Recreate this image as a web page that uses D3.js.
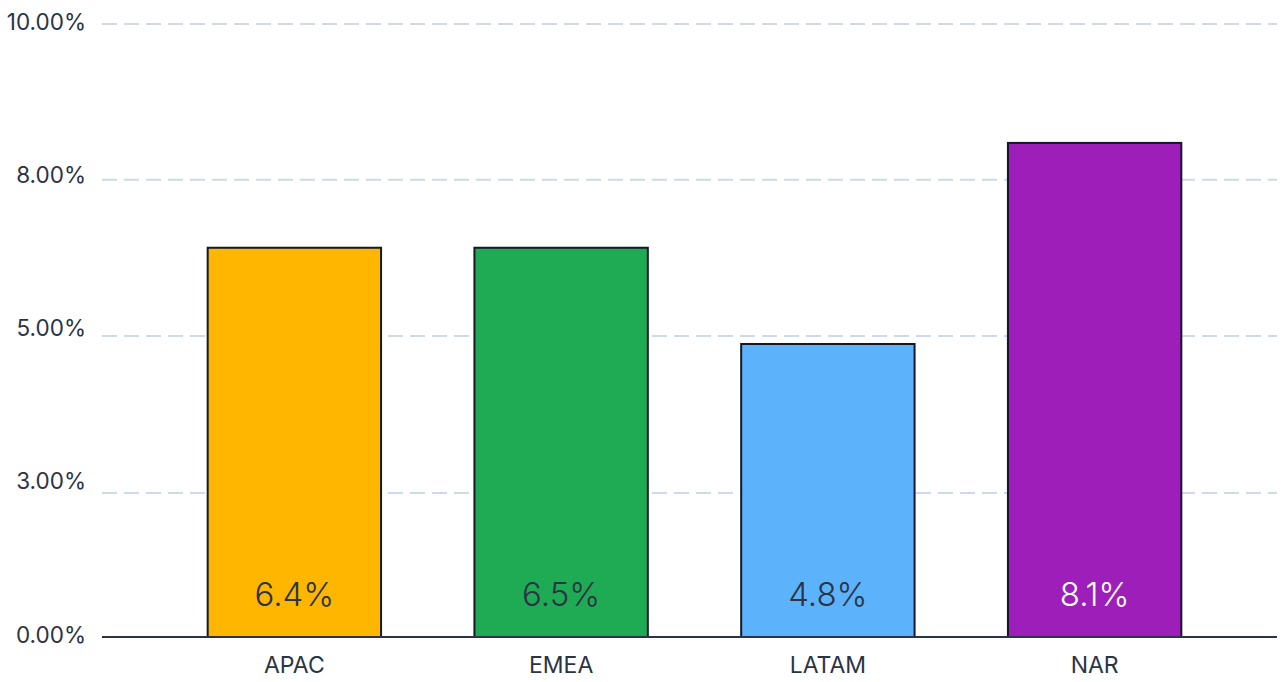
<!DOCTYPE html>
<html>
<head>
<meta charset="utf-8">
<script src="https://cdn.jsdelivr.net/npm/d3@7"></script>
<style>
  body { margin: 0; background: #fff; }
  svg { display: block; font-family: "Inter", "Noto Sans", sans-serif; }
</style>
</head>
<body>
<div id="chart"></div>
<script>
// regions and values
const regions = ["APAC", "EMEA", "LATAM", "NAR"];
const values = [6.35, 6.35, 4.78, 8.06];
const valueLabels = ["6.4%", "6.5%", "4.8%", "8.1%"];
const colors = ["#FFB600", "#1FAB54", "#5DB3FB", "#9E1EBA"];
const labelColors = ["#2B3445", "#2B3445", "#2B3445", "#FFFFFF"];
const tickValues = [0, 2.5, 5, 7.5, 10];
const gridValues = [2.35, 4.91, 7.46, 10];

const width = 1284;
const height = 682;

const svg = d3.select("#chart")
    .append("svg")
    .attr("width", width)
    .attr("height", height);

const x = d3.scaleBand()
    .domain(regions)
    .range([161, 1228])
    .paddingInner(0.35)
    .paddingOuter(0.175);

const y = d3.scaleLinear()
    .domain([0, 10])
    .range([637, 24]);

// grille pointillée
svg.append("g")
    .selectAll("line")
    .data(gridValues)
    .join("line")
    .attr("x1", 102)
    .attr("x2", 1277)
    .attr("y1", d => y(d))
    .attr("y2", d => y(d))
    .attr("stroke", "#D0D9E8")
    .attr("stroke-width", 2)
    .attr("stroke-dasharray", "15,7");

// axe Y (labels seulement)
const yAxis = d3.axisLeft(y)
    .tickValues(tickValues)
    .tickSize(0)
    .tickFormat(d => Math.round(d).toFixed(2) + "%");

svg.append("g")
    .attr("transform", "translate(86,-2)")
    .call(yAxis)
    .call(g => g.select(".domain").remove())
    .call(g => g.selectAll("text")
        .attr("x", 0)
        .attr("fill", "#2B3445")
        .attr("font-size", 22.5)
        .attr("font-family", "Inter, 'Noto Sans', sans-serif"));

// barres
svg.append("g")
    .selectAll("rect")
    .data(regions)
    .join("rect")
    .attr("x", d => x(d))
    .attr("y", (d, i) => y(values[i]))
    .attr("width", x.bandwidth())
    .attr("height", (d, i) => y(0) - y(values[i]))
    .attr("fill", (d, i) => colors[i])
    .attr("stroke", "#111827")
    .attr("stroke-width", 2);

// axe X
const xAxis = d3.axisBottom(x).tickSize(0).tickPadding(20);

svg.append("g")
    .attr("transform", `translate(0,${y(0)})`)
    .call(xAxis)
    .call(g => g.select(".domain").remove())
    .call(g => g.selectAll("text")
        .attr("fill", "#2B3445")
        .attr("font-size", 23)
        .attr("font-family", "Inter, 'Noto Sans', sans-serif"));

svg.append("line")
    .attr("x1", 102)
    .attr("x2", 1277)
    .attr("y1", y(0))
    .attr("y2", y(0))
    .attr("stroke", "#2B3445")
    .attr("stroke-width", 2);

// étiquettes de valeur
svg.append("g")
    .selectAll("text")
    .data(regions)
    .join("text")
    .attr("x", d => x(d) + x.bandwidth() / 2)
    .attr("y", 594)
    .attr("text-anchor", "middle")
    .attr("dominant-baseline", "central")
    .attr("font-size", 33)
    .attr("font-weight", 300)
    .attr("fill", (d, i) => labelColors[i])
    .text((d, i) => valueLabels[i]);
</script>
</body>
</html>
